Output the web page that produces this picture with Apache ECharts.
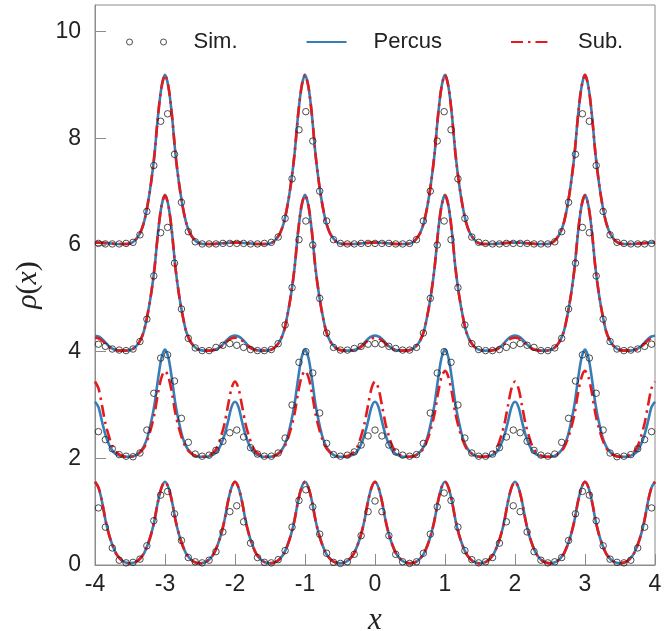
<!DOCTYPE html>
<html><head><meta charset="utf-8">
<script src="https://cdn.jsdelivr.net/npm/echarts@6/dist/echarts.min.js"></script>
<style>html,body{margin:0;padding:0;background:#fff}#c{width:671px;height:631px}</style>
</head><body><div id="c"></div>
<script>
// x grid of the theory curves
const xLine=[-4,-3.95,-3.9,-3.85,-3.8,-3.75,-3.7,-3.65,-3.6,-3.55,-3.5,-3.45,-3.4,-3.35,-3.3,-3.25,-3.2,-3.15,-3.1,-3.05,
-3,-2.95,-2.9,-2.85,-2.8,-2.75,-2.7,-2.65,-2.6,-2.55,-2.5,-2.45,-2.4,-2.35,-2.3,-2.25,-2.2,-2.15,-2.1,-2.05,
-2,-1.95,-1.9,-1.85,-1.8,-1.75,-1.7,-1.65,-1.6,-1.55,-1.5,-1.45,-1.4,-1.35,-1.3,-1.25,-1.2,-1.15,-1.1,-1.05,
-1,-0.95,-0.9,-0.85,-0.8,-0.75,-0.7,-0.65,-0.6,-0.55,-0.5,-0.45,-0.4,-0.35,-0.3,-0.25,-0.2,-0.15,-0.1,-0.05,
0,0.05,0.1,0.15,0.2,0.25,0.3,0.35,0.4,0.45,0.5,0.55,0.6,0.65,0.7,0.75,0.8,0.85,0.9,0.95,
1,1.05,1.1,1.15,1.2,1.25,1.3,1.35,1.4,1.45,1.5,1.55,1.6,1.65,1.7,1.75,1.8,1.85,1.9,1.95,
2,2.05,2.1,2.15,2.2,2.25,2.3,2.35,2.4,2.45,2.5,2.55,2.6,2.65,2.7,2.75,2.8,2.85,2.9,2.95,
3,3.05,3.1,3.15,3.2,3.25,3.3,3.35,3.4,3.45,3.5,3.55,3.6,3.65,3.7,3.75,3.8,3.85,3.9,3.95,4];

// Percus theory curves (offsets 0, 2, 4, 6)
const percus1=[
1.56,1.45,1.19,0.84,0.57,0.37,0.22,0.13,0.07,0.04,0.03,0.04,0.07,0.13,0.22,0.37,0.57,0.84,1.19,1.45,
1.56,1.45,1.19,0.84,0.57,0.37,0.22,0.13,0.07,0.04,0.03,0.04,0.07,0.13,0.22,0.37,0.57,0.84,1.19,1.45,
1.56,1.45,1.19,0.84,0.57,0.37,0.22,0.13,0.07,0.04,0.03,0.04,0.07,0.13,0.22,0.37,0.57,0.84,1.19,1.45,
1.56,1.45,1.19,0.84,0.57,0.37,0.22,0.13,0.07,0.04,0.03,0.04,0.07,0.13,0.22,0.37,0.57,0.84,1.19,1.45,
1.56,1.45,1.19,0.84,0.57,0.37,0.22,0.13,0.07,0.04,0.03,0.04,0.07,0.13,0.22,0.37,0.57,0.84,1.19,1.45,
1.56,1.45,1.19,0.84,0.57,0.37,0.22,0.13,0.07,0.04,0.03,0.04,0.07,0.13,0.22,0.37,0.57,0.84,1.19,1.45,
1.56,1.45,1.19,0.84,0.57,0.37,0.22,0.13,0.07,0.04,0.03,0.04,0.07,0.13,0.22,0.37,0.57,0.84,1.19,1.45,
1.56,1.45,1.19,0.84,0.57,0.37,0.22,0.13,0.07,0.04,0.03,0.04,0.07,0.13,0.22,0.37,0.57,0.84,1.19,1.45,
1.56];
const percus2=[
3.06,2.96,2.69,2.44,2.26,2.14,2.08,2.05,2.03,2.03,2.03,2.04,2.07,2.13,2.23,2.40,2.67,3.01,3.48,3.88,
4.04,3.88,3.48,3.01,2.67,2.40,2.23,2.13,2.07,2.04,2.03,2.03,2.03,2.05,2.08,2.14,2.26,2.44,2.69,2.96,
3.06,2.96,2.69,2.44,2.26,2.14,2.08,2.05,2.03,2.03,2.03,2.04,2.07,2.13,2.23,2.40,2.67,3.01,3.48,3.88,
4.04,3.88,3.48,3.01,2.67,2.40,2.23,2.13,2.07,2.04,2.03,2.03,2.03,2.05,2.08,2.14,2.26,2.44,2.69,2.96,
3.06,2.96,2.69,2.44,2.26,2.14,2.08,2.05,2.03,2.03,2.03,2.04,2.07,2.13,2.23,2.40,2.67,3.01,3.48,3.88,
4.04,3.88,3.48,3.01,2.67,2.40,2.23,2.13,2.07,2.04,2.03,2.03,2.03,2.05,2.08,2.14,2.26,2.44,2.69,2.96,
3.06,2.96,2.69,2.44,2.26,2.14,2.08,2.05,2.03,2.03,2.03,2.04,2.07,2.13,2.23,2.40,2.67,3.01,3.48,3.88,
4.04,3.88,3.48,3.01,2.67,2.40,2.23,2.13,2.07,2.04,2.03,2.03,2.03,2.05,2.08,2.14,2.26,2.44,2.69,2.96,
3.06];
const percus3=[
4.30,4.285,4.24,4.17,4.10,4.055,4.03,4.02,4.02,4.02,4.03,4.06,4.12,4.22,4.39,4.69,5.07,5.56,6.23,6.73,
6.94,6.73,6.23,5.56,5.07,4.69,4.39,4.22,4.12,4.06,4.03,4.02,4.02,4.02,4.03,4.055,4.10,4.17,4.24,4.285,
4.30,4.285,4.24,4.17,4.10,4.055,4.03,4.02,4.02,4.02,4.03,4.06,4.12,4.22,4.39,4.69,5.07,5.56,6.23,6.73,
6.94,6.73,6.23,5.56,5.07,4.69,4.39,4.22,4.12,4.06,4.03,4.02,4.02,4.02,4.03,4.055,4.10,4.17,4.24,4.285,
4.30,4.285,4.24,4.17,4.10,4.055,4.03,4.02,4.02,4.02,4.03,4.06,4.12,4.22,4.39,4.69,5.07,5.56,6.23,6.73,
6.94,6.73,6.23,5.56,5.07,4.69,4.39,4.22,4.12,4.06,4.03,4.02,4.02,4.02,4.03,4.055,4.10,4.17,4.24,4.285,
4.30,4.285,4.24,4.17,4.10,4.055,4.03,4.02,4.02,4.02,4.03,4.06,4.12,4.22,4.39,4.69,5.07,5.56,6.23,6.73,
6.94,6.73,6.23,5.56,5.07,4.69,4.39,4.22,4.12,4.06,4.03,4.02,4.02,4.02,4.03,4.055,4.10,4.17,4.24,4.285,
4.30];
const percus4=[
6.045,6.045,6.04,6.035,6.03,6.025,6.02,6.02,6.02,6.02,6.03,6.06,6.13,6.24,6.43,6.74,7.16,7.70,8.42,8.96,
9.19,8.96,8.42,7.70,7.16,6.74,6.43,6.24,6.13,6.06,6.03,6.02,6.02,6.02,6.02,6.025,6.03,6.035,6.04,6.045,
6.045,6.045,6.04,6.035,6.03,6.025,6.02,6.02,6.02,6.02,6.03,6.06,6.13,6.24,6.43,6.74,7.16,7.70,8.42,8.96,
9.19,8.96,8.42,7.70,7.16,6.74,6.43,6.24,6.13,6.06,6.03,6.02,6.02,6.02,6.02,6.025,6.03,6.035,6.04,6.045,
6.045,6.045,6.04,6.035,6.03,6.025,6.02,6.02,6.02,6.02,6.03,6.06,6.13,6.24,6.43,6.74,7.16,7.70,8.42,8.96,
9.19,8.96,8.42,7.70,7.16,6.74,6.43,6.24,6.13,6.06,6.03,6.02,6.02,6.02,6.02,6.025,6.03,6.035,6.04,6.045,
6.045,6.045,6.04,6.035,6.03,6.025,6.02,6.02,6.02,6.02,6.03,6.06,6.13,6.24,6.43,6.74,7.16,7.70,8.42,8.96,
9.19,8.96,8.42,7.70,7.16,6.74,6.43,6.24,6.13,6.06,6.03,6.02,6.02,6.02,6.02,6.025,6.03,6.035,6.04,6.045,
6.045];

// Sub theory curves
const sub1=[
1.56,1.45,1.19,0.84,0.57,0.37,0.22,0.13,0.07,0.04,0.03,0.04,0.07,0.13,0.22,0.37,0.57,0.84,1.19,1.45,
1.56,1.45,1.19,0.84,0.57,0.37,0.22,0.13,0.07,0.04,0.03,0.04,0.07,0.13,0.22,0.37,0.57,0.84,1.19,1.45,
1.56,1.45,1.19,0.84,0.57,0.37,0.22,0.13,0.07,0.04,0.03,0.04,0.07,0.13,0.22,0.37,0.57,0.84,1.19,1.45,
1.56,1.45,1.19,0.84,0.57,0.37,0.22,0.13,0.07,0.04,0.03,0.04,0.07,0.13,0.22,0.37,0.57,0.84,1.19,1.45,
1.56,1.45,1.19,0.84,0.57,0.37,0.22,0.13,0.07,0.04,0.03,0.04,0.07,0.13,0.22,0.37,0.57,0.84,1.19,1.45,
1.56,1.45,1.19,0.84,0.57,0.37,0.22,0.13,0.07,0.04,0.03,0.04,0.07,0.13,0.22,0.37,0.57,0.84,1.19,1.45,
1.56,1.45,1.19,0.84,0.57,0.37,0.22,0.13,0.07,0.04,0.03,0.04,0.07,0.13,0.22,0.37,0.57,0.84,1.19,1.45,
1.56,1.45,1.19,0.84,0.57,0.37,0.22,0.13,0.07,0.04,0.03,0.04,0.07,0.13,0.22,0.37,0.57,0.84,1.19,1.45,
1.56];
const sub2=[
3.44,3.31,2.99,2.65,2.41,2.22,2.12,2.07,2.04,2.03,2.03,2.04,2.07,2.12,2.20,2.35,2.56,2.83,3.22,3.52,
3.64,3.52,3.22,2.83,2.56,2.35,2.20,2.12,2.07,2.04,2.03,2.03,2.04,2.07,2.12,2.22,2.41,2.65,2.99,3.31,
3.44,3.31,2.99,2.65,2.41,2.22,2.12,2.07,2.04,2.03,2.03,2.04,2.07,2.12,2.20,2.35,2.56,2.83,3.22,3.52,
3.64,3.52,3.22,2.83,2.56,2.35,2.20,2.12,2.07,2.04,2.03,2.03,2.04,2.07,2.12,2.22,2.41,2.65,2.99,3.31,
3.44,3.31,2.99,2.65,2.41,2.22,2.12,2.07,2.04,2.03,2.03,2.04,2.07,2.12,2.20,2.35,2.56,2.83,3.22,3.52,
3.64,3.52,3.22,2.83,2.56,2.35,2.20,2.12,2.07,2.04,2.03,2.03,2.04,2.07,2.12,2.22,2.41,2.65,2.99,3.31,
3.44,3.31,2.99,2.65,2.41,2.22,2.12,2.07,2.04,2.03,2.03,2.04,2.07,2.12,2.20,2.35,2.56,2.83,3.22,3.52,
3.64,3.52,3.22,2.83,2.56,2.35,2.20,2.12,2.07,2.04,2.03,2.03,2.04,2.07,2.12,2.22,2.41,2.65,2.99,3.31,
3.44];
const sub3=[
4.26,4.25,4.21,4.15,4.09,4.05,4.03,4.02,4.02,4.02,4.03,4.06,4.12,4.22,4.39,4.69,5.07,5.56,6.23,6.73,
6.93,6.73,6.23,5.56,5.07,4.69,4.39,4.22,4.12,4.06,4.03,4.02,4.02,4.02,4.03,4.05,4.09,4.15,4.21,4.25,
4.26,4.25,4.21,4.15,4.09,4.05,4.03,4.02,4.02,4.02,4.03,4.06,4.12,4.22,4.39,4.69,5.07,5.56,6.23,6.73,
6.93,6.73,6.23,5.56,5.07,4.69,4.39,4.22,4.12,4.06,4.03,4.02,4.02,4.02,4.03,4.05,4.09,4.15,4.21,4.25,
4.26,4.25,4.21,4.15,4.09,4.05,4.03,4.02,4.02,4.02,4.03,4.06,4.12,4.22,4.39,4.69,5.07,5.56,6.23,6.73,
6.93,6.73,6.23,5.56,5.07,4.69,4.39,4.22,4.12,4.06,4.03,4.02,4.02,4.02,4.03,4.05,4.09,4.15,4.21,4.25,
4.26,4.25,4.21,4.15,4.09,4.05,4.03,4.02,4.02,4.02,4.03,4.06,4.12,4.22,4.39,4.69,5.07,5.56,6.23,6.73,
6.93,6.73,6.23,5.56,5.07,4.69,4.39,4.22,4.12,4.06,4.03,4.02,4.02,4.02,4.03,4.05,4.09,4.15,4.21,4.25,
4.26];
const sub4=[
6.045,6.045,6.04,6.035,6.03,6.025,6.02,6.02,6.02,6.02,6.03,6.06,6.13,6.24,6.43,6.74,7.16,7.70,8.42,8.96,
9.19,8.96,8.42,7.70,7.16,6.74,6.43,6.24,6.13,6.06,6.03,6.02,6.02,6.02,6.02,6.025,6.03,6.035,6.04,6.045,
6.045,6.045,6.04,6.035,6.03,6.025,6.02,6.02,6.02,6.02,6.03,6.06,6.13,6.24,6.43,6.74,7.16,7.70,8.42,8.96,
9.19,8.96,8.42,7.70,7.16,6.74,6.43,6.24,6.13,6.06,6.03,6.02,6.02,6.02,6.02,6.025,6.03,6.035,6.04,6.045,
6.045,6.045,6.04,6.035,6.03,6.025,6.02,6.02,6.02,6.02,6.03,6.06,6.13,6.24,6.43,6.74,7.16,7.70,8.42,8.96,
9.19,8.96,8.42,7.70,7.16,6.74,6.43,6.24,6.13,6.06,6.03,6.02,6.02,6.02,6.02,6.025,6.03,6.035,6.04,6.045,
6.045,6.045,6.04,6.035,6.03,6.025,6.02,6.02,6.02,6.02,6.03,6.06,6.13,6.24,6.43,6.74,7.16,7.70,8.42,8.96,
9.19,8.96,8.42,7.70,7.16,6.74,6.43,6.24,6.13,6.06,6.03,6.02,6.02,6.02,6.02,6.025,6.03,6.035,6.04,6.045,
6.045];

// simulation points
const xSim=[-3.951,-3.852,-3.753,-3.654,-3.556,-3.457,-3.358,-3.259,-3.160,-3.062,
-2.963,-2.864,-2.765,-2.667,-2.568,-2.469,-2.370,-2.272,-2.173,-2.074,
-1.975,-1.877,-1.778,-1.679,-1.580,-1.481,-1.383,-1.284,-1.185,-1.086,
-0.988,-0.889,-0.790,-0.691,-0.593,-0.494,-0.395,-0.296,-0.198,-0.099,
0,0.099,0.198,0.296,0.395,0.494,0.593,0.691,0.790,0.889,
0.988,1.086,1.185,1.284,1.383,1.481,1.580,1.679,1.778,1.877,
1.975,2.074,2.173,2.272,2.370,2.469,2.568,2.667,2.765,2.864,
2.963,3.062,3.160,3.259,3.358,3.457,3.556,3.654,3.753,3.852,3.951];
const sim1=[1.07,0.71,0.32,0.09,0.04,0.05,0.11,0.36,0.83,1.31,
1.38,0.96,0.46,0.14,0.06,0.04,0.09,0.25,0.62,1.00,
1.11,0.81,0.41,0.14,0.05,0.04,0.10,0.27,0.71,1.21,
1.41,1.09,0.58,0.22,0.05,0.03,0.06,0.20,0.55,1.00,
1.20,1.00,0.55,0.20,0.06,0.03,0.06,0.22,0.58,1.09,
1.35,1.21,0.71,0.27,0.10,0.04,0.06,0.14,0.41,0.81,
1.11,1.00,0.62,0.25,0.09,0.04,0.06,0.14,0.46,0.96,
1.38,1.31,0.83,0.36,0.11,0.05,0.04,0.09,0.32,0.71,1.07];
const sim2=[2.50,2.35,2.18,2.07,2.04,2.03,2.10,2.53,3.22,3.88,
3.94,3.45,2.75,2.30,2.08,2.04,2.06,2.15,2.32,2.48,
2.53,2.40,2.20,2.08,2.04,2.04,2.10,2.38,3.00,3.80,
4.00,3.60,2.85,2.28,2.07,2.04,2.06,2.12,2.25,2.42,
2.53,2.42,2.25,2.12,2.06,2.04,2.07,2.28,2.85,3.60,
4.00,3.80,3.00,2.38,2.10,2.04,2.04,2.08,2.20,2.40,
2.53,2.48,2.32,2.15,2.06,2.04,2.08,2.30,2.75,3.45,
3.94,3.88,3.22,2.53,2.10,2.03,2.04,2.07,2.18,2.35,2.50];
const sim3=[4.14,4.10,4.05,4.03,4.02,4.05,4.19,4.61,5.42,6.23,
6.33,5.66,4.80,4.25,4.07,4.02,4.02,4.08,4.12,4.15,
4.12,4.08,4.04,4.02,4.02,4.04,4.15,4.50,5.20,6.10,
6.45,6.00,5.00,4.35,4.08,4.03,4.03,4.06,4.10,4.14,
4.15,4.14,4.10,4.06,4.03,4.03,4.08,4.35,5.00,6.00,
6.45,6.10,5.20,4.50,4.15,4.04,4.02,4.02,4.04,4.08,
4.12,4.15,4.12,4.08,4.02,4.02,4.07,4.25,4.80,5.66,
6.33,6.23,5.42,4.61,4.19,4.05,4.02,4.03,4.05,4.10,4.14];
const sim4=[6.03,6.02,6.02,6.02,6.03,6.05,6.19,6.63,7.49,8.32,
8.46,7.70,6.80,6.25,6.06,6.02,6.02,6.02,6.03,6.03,
6.03,6.03,6.02,6.02,6.03,6.05,6.15,6.50,7.24,8.16,
8.50,7.95,7.01,6.45,6.10,6.03,6.02,6.02,6.03,6.03,
6.03,6.03,6.03,6.02,6.02,6.03,6.10,6.45,7.01,7.95,
8.50,8.16,7.24,6.50,6.15,6.05,6.03,6.02,6.02,6.03,
6.03,6.03,6.03,6.02,6.02,6.02,6.06,6.25,6.80,7.70,
8.46,8.32,7.49,6.63,6.19,6.05,6.03,6.02,6.02,6.02,6.03];

const yTicks=[0,2,4,6,8,10];
const xTicks=[-4,-3,-2,-1,0,1,2,3,4];

const BLUE='#377eb8', RED='#e41a1c', AX='#8c8c8c';
const FONT='"Liberation Sans", Arial, Helvetica, sans-serif';
const SERIF='"Liberation Serif", "DejaVu Serif", serif';
function pairs(xs,ys){return xs.map((x,i)=>[x,ys[i]]);}

const percusSets=[percus1,percus2,percus3,percus4];
const subSets=[sub1,sub2,sub3,sub4];
const simSets=[sim1,sim2,sim3,sim4];
const series=[];
percusSets.forEach(d=>series.push({type:'line',name:'Percus',data:pairs(xLine,d),symbol:'none',showSymbol:false,smooth:0.3,
  lineStyle:{color:BLUE,width:2.6},itemStyle:{color:BLUE},z:2,silent:true}));
subSets.forEach(d=>series.push({type:'line',name:'Sub.',data:pairs(xLine,d),symbol:'none',showSymbol:false,smooth:0.3,
  lineStyle:{color:RED,width:2.6,type:[12,5,2.5,5]},itemStyle:{color:RED},z:3,silent:true}));
simSets.forEach(d=>series.push({type:'scatter',name:'Sim.',data:pairs(xSim,d),symbol:'circle',symbolSize:6.5,
  itemStyle:{color:'rgba(0,0,0,0)',borderColor:'#222',borderWidth:1},z:4,silent:true}));

const hidden={color:'rgba(0,0,0,0)',borderColor:'rgba(0,0,0,0)',borderWidth:0};
const chart=echarts.init(document.getElementById('c'),null,{renderer:'canvas'});
chart.setOption({
  animation:false,
  grid:{left:95,right:16,top:5,bottom:66,show:true,borderColor:AX,borderWidth:1,
        containLabel:false,outerBoundsMode:'none'},
  legend:{top:26,left:121,itemGap:68,itemWidth:40,itemHeight:6,
    textStyle:{fontSize:22,color:'#222',fontFamily:FONT,padding:[0,0,0,22]},
    data:[{name:'Sim.',icon:'path://M0,3A3,3,0,1,1,6,3A3,3,0,1,1,0,3ZM34,3A3,3,0,1,1,40,3A3,3,0,1,1,34,3Z',
           itemStyle:{color:'rgba(0,0,0,0)',borderColor:'#222',borderWidth:1}},
          {name:'Percus',itemStyle:hidden},{name:'Sub.',itemStyle:hidden}]},
  xAxis:{type:'value',min:xTicks[0],max:xTicks[xTicks.length-1],interval:1,
    axisLine:{show:true,onZero:false,lineStyle:{color:AX}},
    axisTick:{show:true,inside:true,length:11,lineStyle:{color:AX}},
    axisLabel:{fontSize:23,color:'#222',fontFamily:FONT,margin:8},
    splitLine:{show:false},
    name:'x',nameLocation:'middle',nameGap:40,
    nameTextStyle:{fontFamily:SERIF,fontStyle:'italic',fontSize:31,color:'#222'}},
  yAxis:{type:'value',min:yTicks[0],max:10.5,interval:2,
    axisLine:{show:true,onZero:false,lineStyle:{color:AX}},
    axisTick:{show:true,inside:true,length:11,lineStyle:{color:AX}},
    axisLabel:{fontSize:23,color:'#222',fontFamily:FONT,margin:14,showMaxLabel:false,
      formatter:v=>yTicks.indexOf(v)>=0?String(v):''},
    splitLine:{show:false},
    name:'{i|ρ}{r|(}{i|x}{r|)}',nameLocation:'middle',nameGap:52,nameRotate:90,
    nameTextStyle:{color:'#222',rich:{i:{fontFamily:SERIF,fontStyle:'italic',fontSize:30,color:'#222'},
                                     r:{fontFamily:SERIF,fontSize:30,color:'#222'}}}},
  series:series
});
</script></body></html>
